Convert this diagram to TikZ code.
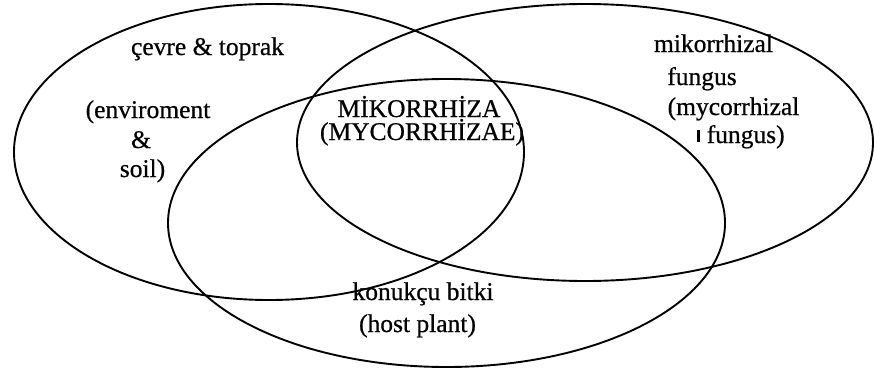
\documentclass[tikz,border=0pt]{standalone}
\usepackage{fontspec}
\usetikzlibrary{shapes.geometric}
\newfontfamily\vennfont[FakeBold=0.6]{Liberation Serif}
\tikzset{
  vennset/.style={draw, ellipse, line width=1.9pt, inner sep=0pt, outer sep=0pt},
  lbl/.style={anchor=base, inner sep=0pt, font=\vennfont\fontsize{25.5}{30}\selectfont},
}
\begin{document}
\begin{tikzpicture}[x=1pt, y=-1pt]
\useasboundingbox (0,0) rectangle (874,372);
% sets
\node[vennset, minimum width=510pt, minimum height=296pt] (env) at (269,152) {};
\node[vennset, minimum width=576pt, minimum height=277pt] (fungus) at (585,142.5) {};
\node[vennset, minimum width=557pt, minimum height=288pt] (host) at (446.5,223) {};
% labels: environment & soil
\node[lbl] (t1) at (207.5,55) {çevre \& toprak};
\node[lbl] (t2) at (148,118) {(enviroment};
\node[lbl] (t3) at (141,148) {\&};
\node[lbl] (t4) at (142.5,177) {soil)};
% centre
\node[lbl] (m1) at (419,117) {MİKORRHİZA};
\node[lbl] (m2) at (422,140) {(MYCORRHİZAE)};
% host plant
\node[lbl] (h1) at (423,300) {konukçu bitki};
\node[lbl] (h2) at (417.5,332) {(host plant)};
% fungus
\node[lbl] (f1) at (713.5,52) {mikorrhizal};
\node[lbl] (f2) at (702,85) {fungus};
\node[lbl] (f3) at (733.5,115) {(mycorrhizal};
\node[lbl] (f4) at (741,143) {\rule[1.5pt]{3pt}{11.5pt} fungus)};
\end{tikzpicture}
\end{document}
